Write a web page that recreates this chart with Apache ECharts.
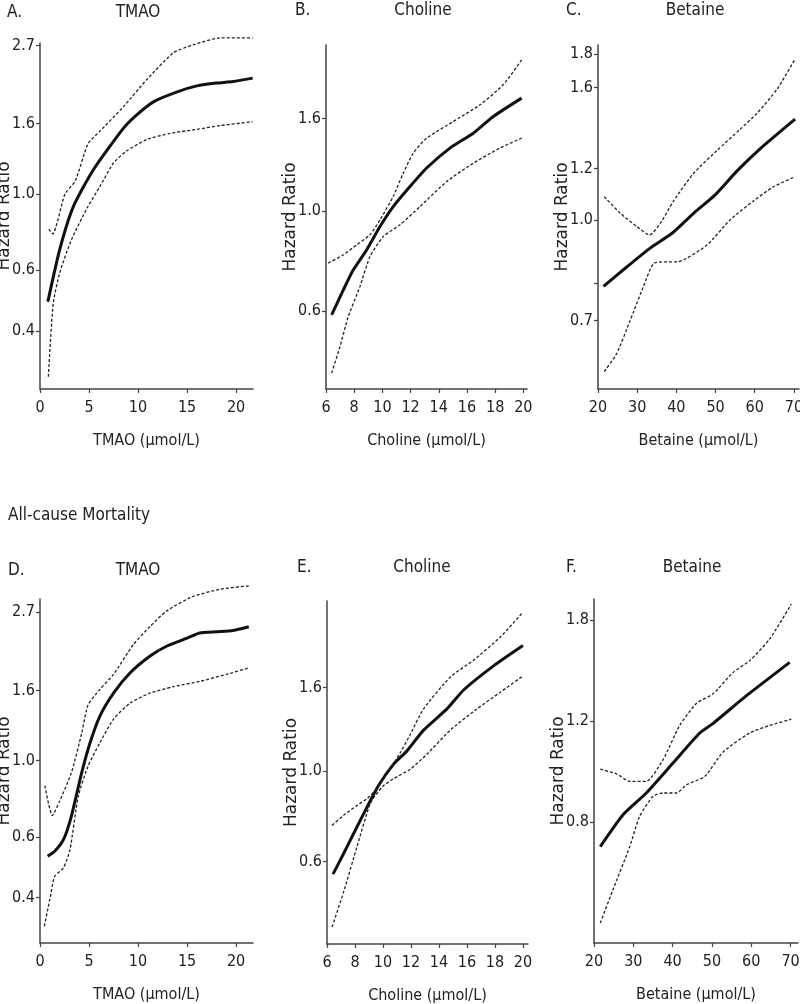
<!DOCTYPE html>
<html>
<head>
<meta charset="utf-8">
<script src="https://cdn.jsdelivr.net/npm/echarts@6/dist/echarts.min.js"></script>
<style>
  html, body { margin: 0; padding: 0; background: #fff; }
  #chart { width: 800px; height: 1004px; }
</style>
</head>
<body>
<div id="chart"></div>
<script>
// hazard ratio curves, [concentration, HR] pairs
// A. TMAO
var aHr = [[0.8,0.486],[2.0,0.687],[3.4,0.918],[5.4,1.17],[8.5,1.55],[9.9,1.70],[11.7,1.86],[14.0,1.98],[16.0,2.06],[18.0,2.10],[19.7,2.12],[21.7,2.17]];
var aHi = [[0.9,0.79],[1.3,0.765],[2.55,1.0],[3.6,1.09],[4.9,1.40],[6.1,1.52],[8.5,1.79],[10.9,2.15],[13.6,2.57],[15.6,2.71],[18.4,2.84],[21.7,2.84]];
var aLo = [[0.85,0.294],[1.35,0.481],[2.0,0.588],[3.2,0.735],[4.8,0.909],[6.1,1.05],[7.5,1.23],[8.8,1.33],[10.9,1.44],[13.3,1.50],[16.0,1.54],[18.4,1.58],[21.7,1.62]];
// B. Choline
var bHr = [[6.4,0.588],[7.23,0.668],[7.94,0.74],[8.89,0.82],[9.83,0.923],[10.77,1.022],[11.96,1.132],[13.14,1.244],[14.79,1.377],[16.45,1.486],[17.87,1.618],[19.88,1.777]];
var bHi = [[6.16,0.766],[7.23,0.799],[8.18,0.841],[9.12,0.885],[9.83,0.955],[10.77,1.076],[11.48,1.212],[12.19,1.342],[13.14,1.449],[15.03,1.577],[16.92,1.717],[18.57,1.902],[19.88,2.16]];
var bLo = [[6.4,0.437],[6.99,0.50],[7.58,0.583],[8.41,0.68],[9.12,0.792],[10.06,0.877],[11.25,0.931],[12.67,1.022],[14.56,1.161],[16.45,1.275],[18.34,1.377],[19.88,1.449]];
// C. Betaine
var cHr = [[21.4,0.79],[27.4,0.847],[33.3,0.905],[38.9,0.954],[44.4,1.024],[49.9,1.093],[55.5,1.19],[62.2,1.30],[70.3,1.43]];
var cHi = [[21.6,1.086],[25.7,1.024],[29.9,0.977],[33.2,0.948],[35.9,0.988],[39.3,1.07],[44.4,1.18],[50.4,1.28],[56.3,1.38],[60.6,1.46],[65.7,1.59],[70.3,1.77]];
var cLo = [[21.6,0.584],[24.8,0.623],[28.2,0.70],[31.6,0.79],[34.2,0.857],[37.6,0.862],[40.2,0.862],[47.8,0.915],[53.7,1.0],[59.7,1.07],[64.8,1.125],[70.3,1.166]];
// D. TMAO (all-cause mortality)
var dHr = [[0.78,0.527],[1.5,0.545],[2.4,0.59],[3.2,0.689],[4.25,0.921],[5.1,1.125],[6.1,1.345],[7.5,1.57],[9.2,1.80],[11.2,2.01],[12.9,2.15],[15.0,2.27],[16.3,2.35],[18.0,2.37],[19.7,2.39],[21.3,2.45]];
var dHi = [[0.5,0.846],[1.26,0.692],[2.0,0.762],[3.2,0.921],[4.25,1.20],[4.9,1.45],[6.1,1.61],[7.5,1.78],[9.5,2.17],[11.2,2.45],[12.9,2.72],[15.6,3.0],[18.4,3.15],[21.3,3.22]];
var dLo = [[0.44,0.33],[1.0,0.395],[1.5,0.461],[2.4,0.488],[3.06,0.551],[3.9,0.787],[4.9,0.963],[6.1,1.126],[7.5,1.32],[9.2,1.47],[11.2,1.57],[13.6,1.64],[16.3,1.70],[19.0,1.78],[21.3,1.86]];
// E. Choline (all-cause mortality)
var eHr = [[6.43,0.559],[7.19,0.628],[8.02,0.716],[8.86,0.816],[9.69,0.923],[10.76,1.04],[11.71,1.12],[12.9,1.26],[14.57,1.42],[15.76,1.58],[17.9,1.81],[20,2.03]];
var eHi = [[6.36,0.736],[7.19,0.779],[8.14,0.824],[8.86,0.856],[9.45,0.897],[10.29,0.985],[11.24,1.11],[11.95,1.23],[12.9,1.42],[14.81,1.70],[16.48,1.87],[18.38,2.13],[20,2.45]];
var eLo = [[6.36,0.415],[7.19,0.506],[8.14,0.652],[9.09,0.832],[9.93,0.914],[10.76,0.958],[11.95,1.01],[13.14,1.10],[14.81,1.26],[16.71,1.42],[18.38,1.56],[20,1.71]];
// F. Betaine (all-cause mortality)
var fHr = [[21.6,0.726],[27.4,0.825],[33.3,0.90],[40.1,1.015],[46.9,1.145],[50.3,1.19],[58.8,1.33],[69.8,1.52]];
var fHi = [[21.6,0.99],[25.7,0.972],[29.1,0.943],[33.3,0.943],[37.6,1.03],[41.8,1.18],[46.1,1.29],[50.3,1.34],[55.4,1.46],[59.6,1.53],[64.7,1.67],[70.2,1.92]];
var fLo = [[21.6,0.534],[24.8,0.61],[29.1,0.726],[31.6,0.819],[35,0.888],[37.6,0.90],[41,0.90],[43.5,0.93],[48.2,0.962],[52.8,1.06],[59.6,1.145],[64.7,1.18],[70.2,1.21]];

// tick values
var tmaoTicks = [0, 5, 10, 15, 20];
var cholineTicks = [6, 8, 10, 12, 14, 16, 18, 20];
var betaineTicks = [20, 30, 40, 50, 60, 70];
var hrTicksTmao = [0.4, 0.6, 1.0, 1.6, 2.7];
var hrTicksCholine = [0.6, 1.0, 1.6];
var hrTicksBetaineC = [0.7, 0.8, 1.0, 1.2, 1.6, 1.8];
var hrLabelsBetaineC = [0.7, 1.0, 1.2, 1.6, 1.8];
var hrTicksBetaineF = [0.8, 1.2, 1.8];

var NARROW = "'Liberation Sans Narrow', 'DejaVu Sans Condensed', 'Arial Narrow', sans-serif";
var WIDE = "'DejaVu Sans', 'Liberation Sans', sans-serif";
var TXT = '#222';
var AX = '#444';

var panels = [
  { grid: {left: 40, top: 43, width: 213, height: 346}, x: [0, 21.73], y: [0.271, 2.745],
    xt: tmaoTicks, yt: hrTicksTmao, yl: hrTicksTmao, name: 'TMAO (μmol/L)', lines: [aHr, aHi, aLo] },
  { grid: {left: 326, top: 45, width: 201, height: 344}, x: [6, 20.26], y: [0.403, 2.33],
    xt: cholineTicks, yt: hrTicksCholine, yl: hrTicksCholine, name: 'Choline (μmol/L)', lines: [bHr, bHi, bLo] },
  { grid: {left: 598, top: 45, width: 201, height: 344}, x: [20, 71.3], y: [0.549, 1.86],
    xt: betaineTicks, yt: hrTicksBetaineC, yl: hrLabelsBetaineC, name: 'Betaine (μmol/L)', lines: [cHr, cHi, cLo] },
  { grid: {left: 40, top: 599, width: 213, height: 344}, x: [0, 21.73], y: [0.295, 2.95],
    xt: tmaoTicks, yt: hrTicksTmao, yl: hrTicksTmao, name: 'TMAO (μmol/L)', lines: [dHr, dHi, dLo] },
  { grid: {left: 327, top: 601, width: 201, height: 343}, x: [6, 20.36], y: [0.377, 2.61],
    xt: cholineTicks, yt: hrTicksCholine, yl: hrTicksCholine, name: 'Choline (μmol/L)', lines: [eHr, eHi, eLo] },
  { grid: {left: 594, top: 599, width: 204, height: 344}, x: [20, 71.9], y: [0.493, 1.96],
    xt: betaineTicks, yt: hrTicksBetaineF, yl: hrTicksBetaineF, name: 'Betaine (μmol/L)', lines: [fHr, fHi, fLo] }
];

var grids = [], xAxes = [], yAxes = [], series = [];
panels.forEach(function (p, i) {
  grids.push(Object.assign({containLabel: false, outerBoundsMode: 'none'}, p.grid));
  xAxes.push({
    type: 'value', gridIndex: i, min: p.x[0], max: p.x[1],
    name: p.name, nameLocation: 'middle', nameGap: 44, nameMoveOverlap: false,
    nameTextStyle: {fontFamily: NARROW, fontSize: 16, color: TXT},
    axisLine: {lineStyle: {color: AX, width: 1.5}},
    axisTick: {length: 4, lineStyle: {color: AX, width: 1.2}, customValues: p.xt},
    axisLabel: {fontFamily: NARROW, fontSize: 16, color: TXT, margin: 11, customValues: p.xt},
    splitLine: {show: false}
  });
  yAxes.push({
    type: 'log', logBase: Math.E, gridIndex: i, min: p.y[0], max: p.y[1],
    name: 'Hazard Ratio', nameLocation: 'middle', nameGap: 27, nameMoveOverlap: false,
    nameTextStyle: {fontFamily: WIDE, fontSize: 17, color: TXT},
    axisLine: {show: true, lineStyle: {color: AX, width: 1.5}},
    axisTick: {show: true, length: 4, lineStyle: {color: AX, width: 1.2}, customValues: p.yt},
    axisLabel: {fontFamily: NARROW, fontSize: 16, color: TXT, margin: 5, customValues: p.yl,
      formatter: function (v) { return Number(v).toFixed(1); }},
    splitLine: {show: false}
  });
  p.lines.forEach(function (d, k) {
    series.push({
      type: 'line', xAxisIndex: i, yAxisIndex: i, data: d,
      showSymbol: false, clip: false, smooth: 0.2, silent: true,
      lineStyle: k === 0 ? {color: '#111', width: 3} : {color: '#222', width: 1.3, type: [3, 2]}
    });
  });
});

function label(text, x, y, align, size) {
  return {type: 'text', x: x, y: y, silent: true,
    style: {text: text, fontFamily: NARROW, fontSize: size || 17, fill: TXT, align: align, verticalAlign: 'middle'}};
}

var graphics = [
  label('A.', 7, 13, 'left'), label('TMAO', 138, 13, 'center'),
  label('B.', 295, 11, 'left'), label('Choline', 423, 11, 'center'),
  label('C.', 566, 11, 'left'), label('Betaine', 695, 11, 'center'),
  label('All-cause Mortality', 8, 516, 'left', 17),
  label('D.', 8, 571, 'left'), label('TMAO', 138, 571, 'center'),
  label('E.', 297, 568, 'left'), label('Choline', 422, 568, 'center'),
  label('F.', 566, 568, 'left'), label('Betaine', 692, 568, 'center')
];

var chart = echarts.init(document.getElementById('chart'), null, {renderer: 'canvas'});
chart.setOption({
  backgroundColor: '#fff',
  animation: false,
  grid: grids,
  xAxis: xAxes,
  yAxis: yAxes,
  series: series,
  graphic: graphics
});
</script>
</body>
</html>
